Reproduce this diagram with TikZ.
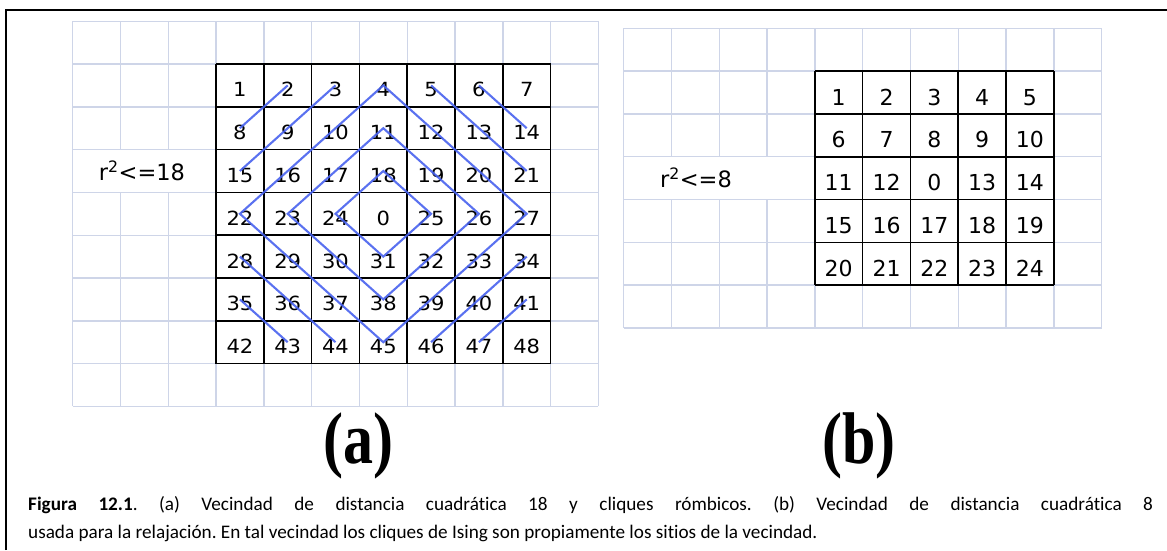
\documentclass[tikz,border=0pt]{standalone}
\usepackage{fontspec}
\setmainfont{Carlito}[Ligatures=NoCommon]
\newfontfamily\cellfont{DejaVu Sans}
\newfontfamily\tagfont{Liberation Serif}
\definecolor{gridgray}{RGB}{206,213,232}
\definecolor{cliqueblue}{RGB}{72,98,238}
\frenchspacing

\begin{document}
\begin{tikzpicture}[
  x=1pt,y=-1pt,
  light/.style={draw=gridgray,line width=1.4pt},
  heavy/.style={draw=black,line width=1.6pt},
  numa/.style={font=\cellfont\fontsize{19.5}{19.5}\selectfont,xscale=1.08,
               inner sep=0pt,text height=23pt,text depth=0pt},
  numb/.style={font=\cellfont\fontsize{22}{22}\selectfont,
               inner sep=0pt,text height=25pt,text depth=0pt},
  clique/.style={draw=cliqueblue,line width=2.1pt,opacity=.9},
  radius/.style={font=\cellfont\fontsize{22.5}{22.5}\selectfont,inner sep=0pt},
  tag/.style={font=\tagfont\bfseries\fontsize{60}{60}\selectfont,yscale=1.22,
              inner sep=0pt},
  capline/.style={anchor=base west,inner sep=0pt,
                  font=\fontsize{19.2}{19.2}\selectfont}
]
\useasboundingbox (0,0) rectangle (1167,550);
\def\cw{47.8}
\def\ch{42.8}

\draw[line width=2pt] (6,550) -- (6,10) -- (1167,10);

% (a) neighbourhood r^2<=18
\foreach \i in {0,3,4,...,11}
  \draw[light] ({72.6+\i*\cw},21.2) -- ++(0,{9*\ch});
\foreach \i in {1,2} {
  \draw[light] ({72.6+\i*\cw},21.2) -- ++(0,{3*\ch});
  \draw[light] ({72.6+\i*\cw},{21.2+4*\ch}) -- ++(0,{5*\ch});
}
\foreach \j in {0,...,9}
  \draw[light] (72.6,{21.2+\j*\ch}) -- ++({11*\cw},0);
\foreach \i in {0,...,7}
  \draw[heavy] ({216+\i*\cw},64) -- ++(0,{7*\ch});
\foreach \j in {0,...,7}
  \draw[heavy] (216,{64+\j*\ch}) -- ++({7*\cw},0);
\foreach \r in {0,...,6}
  \foreach \c in {0,...,6} {
    \pgfmathtruncatemacro\k{7*\r+\c+1}
    \pgfmathtruncatemacro\n{\k==25 ? 0 : (\k>25 ? \k-1 : \k)}
    \node[numa] (a\n) at ({216+(\c+.5)*\cw},{64+(\r+.5)*\ch}) {\n};
  }
\node[radius] (ra) at (142,171) {r\textsuperscript{2}<=18};

\draw[clique] (a4.center) -- (a22.center) -- (a45.center) -- (a27.center) -- cycle;
\draw[clique] (a11.center) -- (a23.center) -- (a38.center) -- (a26.center) -- cycle;
\draw[clique] (a18.center) -- (a24.center) -- (a31.center) -- (a25.center) -- cycle;
\draw[clique] (a2.center) -- (a8.center);
\draw[clique] (a3.center) -- (a15.center);
\draw[clique] (a5.center) -- (a21.center);
\draw[clique] (a6.center) -- (a14.center);
\draw[clique] (a28.center) -- (a44.center);
\draw[clique] (a35.center) -- (a43.center);
\draw[clique] (a34.center) -- (a46.center);
\draw[clique] (a41.center) -- (a47.center);

% (b) neighbourhood r^2<=8
\foreach \i in {0,4,5,...,10}
  \draw[light] ({623.6+\i*\cw},28.3) -- ++(0,{7*\ch});
\foreach \i in {1,2,3} {
  \draw[light] ({623.6+\i*\cw},28.3) -- ++(0,{3*\ch});
  \draw[light] ({623.6+\i*\cw},{28.3+4*\ch}) -- ++(0,{3*\ch});
}
\foreach \j in {0,...,7}
  \draw[light] (623.6,{28.3+\j*\ch}) -- ++({10*\cw},0);
\foreach \i in {0,...,5}
  \draw[heavy] ({623.6+(\i+4)*\cw},{28.3+\ch}) -- ++(0,{5*\ch});
\foreach \j in {1,...,6}
  \draw[heavy] ({623.6+4*\cw},{28.3+\j*\ch}) -- ++({5*\cw},0);
\foreach \r in {0,...,4}
  \foreach \c in {0,...,4} {
    \pgfmathtruncatemacro\k{5*\r+\c+1}
    \pgfmathtruncatemacro\n{\k==13 ? 0 : (\k>13 ? \k-1 : \k)}
    \node[numb] (b\n) at ({623.6+(\c+4.5)*\cw},{28.3+(\r+1.5)*\ch}) {\n};
  }
\node[radius] (rb) at (696,178) {r\textsuperscript{2}<=8};

\node[tag] (taga) at (358,446) {(a)};
\node[tag] (tagb) at (859,446) {(b)};

\node[capline] (cap1) at (28,510) {\makebox[1125pt][s]{\textbf{Figura 12.1}. (a) Vecindad de distancia cuadrática 18 y cliques rómbicos. (b) Vecindad de distancia cuadrática 8}};
\node[capline] (cap2) at (28,538) {usada para la relajación. En tal vecindad los cliques de Ising son propiamente los sitios de la vecindad.};
\end{tikzpicture}
\end{document}
